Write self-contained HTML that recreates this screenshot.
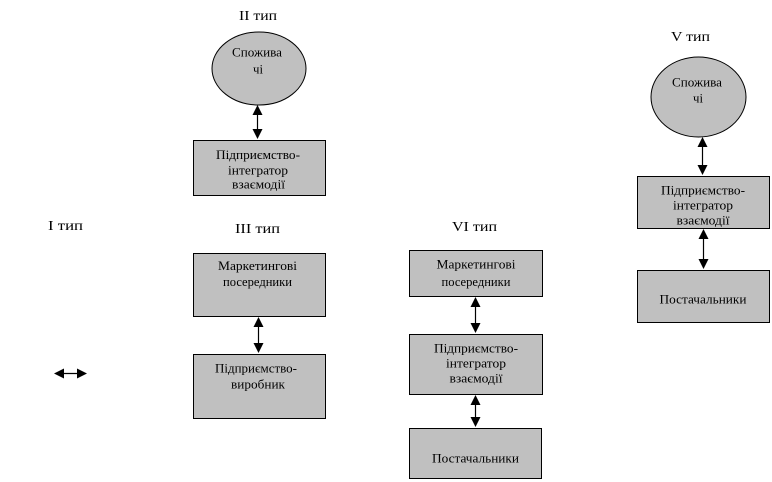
<!DOCTYPE html>
<html>
<head>
<meta charset="utf-8">
<style>
  html, body { margin:0; padding:0; background:#fff; }
  svg { display:block; }
  text { font-family: "Liberation Serif", "DejaVu Serif", serif; fill:#000; }
  .lbl { font-size:14px; }
  .bx { font-size:13px; }
</style>
</head>
<body>
<svg width="772" height="482" viewBox="0 0 772 482" xmlns="http://www.w3.org/2000/svg">
  <rect x="0" y="0" width="772" height="482" fill="#fff"/>

  <!-- Labels -->
  <text class="lbl" x="258" y="20" text-anchor="middle" textLength="38" lengthAdjust="spacingAndGlyphs">ІІ тип</text>
  <text class="lbl" x="690.5" y="41" text-anchor="middle" textLength="39" lengthAdjust="spacingAndGlyphs">V тип</text>
  <text class="lbl" x="474.5" y="231" text-anchor="middle" textLength="45" lengthAdjust="spacingAndGlyphs">VІ тип</text>
  <text class="lbl" x="257.5" y="233" text-anchor="middle" textLength="45" lengthAdjust="spacingAndGlyphs">ІІІ тип</text>
  <text class="lbl" x="65.5" y="230" text-anchor="middle" textLength="35" lengthAdjust="spacingAndGlyphs">І тип</text>

  <g stroke="#000" stroke-width="1" fill="#c0c0c0">
    <!-- II type -->
    <ellipse cx="259" cy="68.5" rx="47" ry="36.5"/>
    <rect x="193.5" y="140.5" width="132" height="55"/>
    <!-- V type -->
    <ellipse cx="698.5" cy="97" rx="47.5" ry="40"/>
    <rect x="637.5" y="176.5" width="132" height="52"/>
    <rect x="637.5" y="270.5" width="132" height="52"/>
    <!-- III type -->
    <rect x="193.5" y="253.5" width="132" height="63"/>
    <rect x="193.5" y="354.5" width="132" height="64"/>
    <!-- VI type -->
    <rect x="409.5" y="250.5" width="133" height="46"/>
    <rect x="409.5" y="334.5" width="133" height="60"/>
    <rect x="409.5" y="428.5" width="132" height="50"/>
  </g>

  <!-- Arrows -->
  <g stroke="#000" stroke-width="1.2" fill="none">
    <line x1="257.5" y1="112" x2="257.5" y2="132"/>
    <line x1="258.5" y1="324" x2="258.5" y2="346"/>
    <line x1="475.5" y1="304" x2="475.5" y2="326"/>
    <line x1="475.5" y1="402" x2="475.5" y2="420"/>
    <line x1="702.5" y1="144" x2="702.5" y2="168"/>
    <line x1="703.5" y1="236" x2="703.5" y2="262"/>
    <line x1="62" y1="373.5" x2="79" y2="373.5"/>
  </g>
  <g fill="#000">
    <!-- II -->
    <polygon points="257.5,105 252.5,115 262.5,115"/>
    <polygon points="257.5,139 252.5,129 262.5,129"/>
    <!-- III -->
    <polygon points="258.5,317 253.5,327 263.5,327"/>
    <polygon points="258.5,353 253.5,343 263.5,343"/>
    <!-- VI -->
    <polygon points="475.5,297 470.5,307 480.5,307"/>
    <polygon points="475.5,333 470.5,323 480.5,323"/>
    <polygon points="475.5,395 470.5,405 480.5,405"/>
    <polygon points="475.5,427 470.5,417 480.5,417"/>
    <!-- V -->
    <polygon points="702.5,137 697.5,147 707.5,147"/>
    <polygon points="702.5,175 697.5,165 707.5,165"/>
    <polygon points="703.5,229 698.5,239 708.5,239"/>
    <polygon points="703.5,269 698.5,259 708.5,259"/>
    <!-- I horizontal -->
    <polygon points="54,373.5 64,368.5 64,378.5"/>
    <polygon points="87,373.5 77,368.5 77,378.5"/>
  </g>

  <!-- II ellipse text -->
  <text class="bx" x="257" y="56.5" text-anchor="middle" textLength="50" lengthAdjust="spacingAndGlyphs">Спожива</text>
  <text class="bx" x="258" y="73.5" text-anchor="middle" textLength="10" lengthAdjust="spacingAndGlyphs">чі</text>
  <!-- II box text -->
  <text class="bx" x="258" y="159" text-anchor="middle" textLength="84" lengthAdjust="spacingAndGlyphs">Підприємство-</text>
  <text class="bx" x="258" y="174.5" text-anchor="middle" textLength="60" lengthAdjust="spacingAndGlyphs">інтегратор</text>
  <text class="bx" x="258.5" y="188.5" text-anchor="middle" textLength="53" lengthAdjust="spacingAndGlyphs">взаємодії</text>

  <!-- V ellipse text -->
  <text class="bx" x="697" y="86.5" text-anchor="middle" textLength="50" lengthAdjust="spacingAndGlyphs">Спожива</text>
  <text class="bx" x="698" y="102.5" text-anchor="middle" textLength="10" lengthAdjust="spacingAndGlyphs">чі</text>
  <!-- V box 1 -->
  <text class="bx" x="703" y="194.5" text-anchor="middle" textLength="84" lengthAdjust="spacingAndGlyphs">Підприємство-</text>
  <text class="bx" x="703" y="209.5" text-anchor="middle" textLength="60" lengthAdjust="spacingAndGlyphs">інтегратор</text>
  <text class="bx" x="703" y="224.5" text-anchor="middle" textLength="53" lengthAdjust="spacingAndGlyphs">взаємодії</text>
  <!-- V box 2 -->
  <text class="bx" x="703" y="303.5" text-anchor="middle" textLength="87" lengthAdjust="spacingAndGlyphs">Постачальники</text>

  <!-- III box 1 -->
  <text class="bx" x="257.5" y="270" text-anchor="middle" textLength="79" lengthAdjust="spacingAndGlyphs">Маркетингові</text>
  <text class="bx" x="257.5" y="286" text-anchor="middle" textLength="69" lengthAdjust="spacingAndGlyphs">посередники</text>
  <!-- III box 2 -->
  <text class="bx" x="256" y="372.5" text-anchor="middle" textLength="82" lengthAdjust="spacingAndGlyphs">Підприємство-</text>
  <text class="bx" x="258" y="388.5" text-anchor="middle" textLength="54" lengthAdjust="spacingAndGlyphs">виробник</text>

  <!-- VI box 1 -->
  <text class="bx" x="476" y="268.5" text-anchor="middle" textLength="79" lengthAdjust="spacingAndGlyphs">Маркетингові</text>
  <text class="bx" x="476" y="286" text-anchor="middle" textLength="69" lengthAdjust="spacingAndGlyphs">посередники</text>
  <!-- VI box 2 -->
  <text class="bx" x="476" y="352.5" text-anchor="middle" textLength="84" lengthAdjust="spacingAndGlyphs">Підприємство-</text>
  <text class="bx" x="476" y="367.5" text-anchor="middle" textLength="60" lengthAdjust="spacingAndGlyphs">інтегратор</text>
  <text class="bx" x="476" y="382.5" text-anchor="middle" textLength="53" lengthAdjust="spacingAndGlyphs">взаємодії</text>
  <!-- VI box 3 -->
  <text class="bx" x="475.5" y="462.5" text-anchor="middle" textLength="87" lengthAdjust="spacingAndGlyphs">Постачальники</text>
</svg>
</body>
</html>
